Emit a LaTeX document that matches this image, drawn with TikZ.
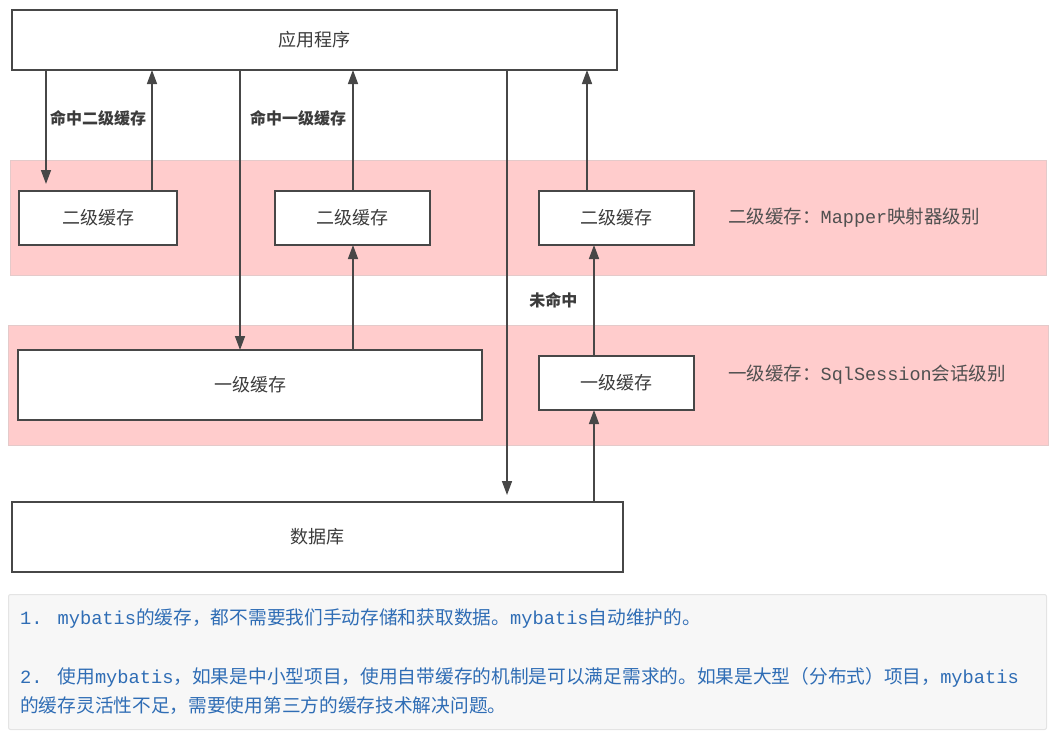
\documentclass[tikz,border=0pt]{standalone}
\usepackage{fontspec}
\usetikzlibrary{arrows.meta, positioning}

\newfontfamily\cjk{Noto Sans CJK SC}
\newfontfamily\monotext{Liberation Mono}
\newcommand\lat[1]{{\monotext #1}}

\definecolor{bandpink}{HTML}{FFCCCC}
\definecolor{bandline}{HTML}{E4CACA}
\definecolor{boxline}{HTML}{474747}
\definecolor{labeltext}{HTML}{3C3C3C}
\definecolor{sidetext}{HTML}{505050}
\definecolor{notefill}{HTML}{F7F7F7}
\definecolor{noteline}{HTML}{E4E4E4}
\definecolor{noteblue}{HTML}{2F6DB5}

\begin{document}
\begin{tikzpicture}[
    x=1pt, y=-1pt,
    band/.style={
        fill=bandpink,
        draw=bandline,
        line width=1pt,
        anchor=north west,
        inner sep=0pt
    },
    cachebox/.style={
        draw=boxline,
        fill=white,
        line width=2pt,
        anchor=north west,
        inner sep=0pt,
        outer sep=0pt,
        text=labeltext,
        font=\cjk\fontsize{18}{22}\selectfont
    },
    hitlabel/.style={
        inner sep=0pt,
        text=labeltext,
        font=\cjk\bfseries\fontsize{16}{20}\selectfont
    },
    sidelabel/.style={
        inner sep=0pt,
        text=sidetext,
        font=\cjk\fontsize{18.5}{22}\selectfont
    },
    noteline/.style={
        inner sep=0pt,
        anchor=base west,
        text=noteblue,
        font=\cjk\fontsize{18.7}{29}\selectfont
    },
    flow/.style={-{Triangle[length=14pt,width=10pt]}, line width=1.5pt, draw=boxline}
]
\useasboundingbox (0,0) rectangle (1054,737);

% cache levels
\node[band, minimum width=1036pt, minimum height=115pt] (band2) at (10,160) {};
\node[band, minimum width=1040pt, minimum height=120pt] (band1) at (8,325) {};

% boxes
\node[cachebox, minimum width=605pt, minimum height=60pt] (app) at (12,10) {应用程序};
\node[cachebox, minimum width=158pt, minimum height=54pt] (l2a) at (19,191) {二级缓存};
\node[cachebox, minimum width=155pt, minimum height=54pt] (l2b) at (275,191) {二级缓存};
\node[cachebox, minimum width=155pt, minimum height=54pt] (l2c) at (539,191) {二级缓存};
\node[cachebox, minimum width=464pt, minimum height=70pt] (l1a) at (18,350) {一级缓存};
\node[cachebox, minimum width=155pt, minimum height=54pt] (l1b) at (539,356) {一级缓存};
\node[cachebox, minimum width=611pt, minimum height=70pt] (db) at (12,502) {数据库};

\node[sidelabel, right=34pt of l2c] (side2) {二级缓存：\lat{Mapper}映射器级别};
\node[sidelabel, right=34pt of l1b, yshift=8pt] (side1) {一级缓存：\lat{SqlSession}会话级别};

% lanes
\coordinate (lane1) at (46,0);
\coordinate (lane2) at (152,0);
\coordinate (lane3) at (240,0);
\coordinate (lane4) at (353,0);
\coordinate (lane5) at (507,0);
\coordinate (lane6) at (587,0);
\coordinate (lane7) at (594,0);

\draw[flow, shorten >=7pt] (app.south -| lane1) -- (l2a.north -| lane1);
\draw[flow] (l2a.north -| lane2) -- (app.south -| lane2);
\draw[flow] (app.south -| lane3) -- (l1a.north -| lane3);
\draw[flow] (l1a.north -| lane4) -- (l2b.south -| lane4);
\draw[flow] (l2b.north -| lane4) -- (app.south -| lane4);
\draw[flow, shorten >=7pt] (app.south -| lane5) -- (db.north -| lane5);
\draw[flow] (l2c.north -| lane6) -- (app.south -| lane6);
\draw[flow] (l1b.north -| lane7) -- node[hitlabel, left=16pt] (miss) {未命中} (l2c.south -| lane7);
\draw[flow] (db.north -| lane7) -- (l1b.south -| lane7);

\node[hitlabel, anchor=west] (hit2) at (50,118) {命中二级缓存};
\node[hitlabel, anchor=west] (hit1) at (250,118) {命中一级缓存};

% notes
\node[draw=noteline, fill=notefill, line width=1pt, rounded corners=2pt, anchor=north west,
      minimum width=1038pt, minimum height=135pt, inner sep=0pt] (notes) at (8,594) {};
\node[noteline] (note1) at (20,624)
    {\lat{1. mybatis}的缓存，都不需要我们手动存储和获取数据。\lat{mybatis}自动维护的。};
\node[noteline] (note2) at (20,683)
    {\lat{2. }使用\lat{mybatis}，如果是中小型项目，使用自带缓存的机制是可以满足需求的。如果是大型（分布式）项目，\lat{mybatis}};
\node[noteline] (note3) at (20,712)
    {的缓存灵活性不足，需要使用第三方的缓存技术解决问题。};
\end{tikzpicture}
\end{document}
